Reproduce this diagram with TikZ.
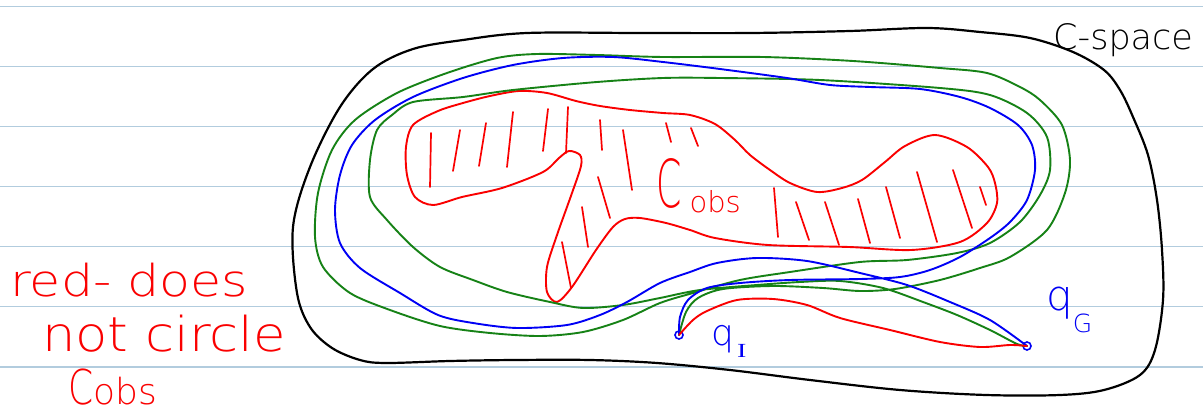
\documentclass[tikz,border=0pt]{standalone}
\usepackage{fontspec}
\setmainfont{DejaVuSans-ExtraLight.ttf}
\newfontfamily\seriffont{Liberation Serif}
\definecolor{rulecol}{RGB}{178,204,222}
\definecolor{pred}{RGB}{250,0,0}
\definecolor{pgreen}{RGB}{22,130,22}
\definecolor{pblue}{RGB}{0,0,245}
\begin{document}
\begin{tikzpicture}[x=1pt,y=-1pt,
  pen/.style={line width=1.9pt,line cap=round,line join=round},
  blackpen/.style={pen,draw=black,line width=2.2pt},
  redpen/.style={pen,draw=pred},
  greenpen/.style={pen,draw=pgreen},
  bluepen/.style={pen,draw=pblue},
  hatch/.style={pen,draw=pred,line width=1.7pt},
  ruleline/.style={draw=rulecol,line width=1.6pt},
  qpt/.style={circle,draw=pblue,line width=1.6pt,minimum size=8pt,inner sep=0pt},
  txt/.style={inner sep=0pt,anchor=base west}]
\useasboundingbox (0,0) rectangle (1203,414);
\fill[white] (0,0) rectangle (1203,414);
\foreach \y in {6.7,66.7,126.7,186.7,246.7,306.7,366.7}
  \draw[ruleline] (0,\y) -- (1203,\y);

% C-space boundary
\draw[blackpen] plot[smooth cycle,tension=0.55] coordinates {
 (1104,70) (1073,52) (1030,38) (980,32) (927,28) (850,31) (751,33) (640,33)
 (527,33) (463,40) (413,49) (373,69) (340,107) (310,167) (293,227) (297,293)
 (310,327) (332,348) (360,360) (386,363) (450,361) (515,360) (590,360) (657,363)
 (730,370) (810,380) (900,390) (986,395) (1060,395) (1104,390) (1140,375)
 (1155,350) (1163,300) (1162,250) (1157,200) (1148,155) (1133,117) (1120,90)};

% obstacle
\draw[redpen] plot[smooth cycle,tension=0.5] coordinates {
 (433,205) (415,197) (407,175) (406,147) (413,125) (438,111) (463,103) (490,96)
 (519,91) (547,93) (576,101) (600,106) (630,110) (663,113) (690,115) (715,124)
 (735,140) (750,155) (770,170) (790,183) (817,192) (842,188) (862,180) (885,162)
 (905,146) (935,135) (967,147) (988,167) (995,183) (997,203) (987,223) (960,242)
 (911,250) (849,247) (768,245) (715,238) (690,230) (666,223) (640,218) (625,219)
 (613,227) (596,250) (572,287) (557,302) (547,292) (547,267) (557,235) (572,193)
 (581,166) (580,155) (569,151) (559,158) (543,172) (502,188) (462,197)};

\foreach \a/\b/\c/\d in {431/133/430/187, 460/130/453/171, 486/123/479/166,
  513/112/507/167, 548/109/543/151, 568/107/566/153, 600/120/602/150,
  623/130/632/190, 666/123/671/142, 691/128/698/146, 598/177/610/218,
  582/207/588/247, 562/242/571/288, 774/188/778/237, 796/202/809/240,
  825/202/839/245, 858/199/870/243, 886/187/900/238, 917/172/937/242,
  953/170/972/228, 980/187/986/205}
  \draw[hatch] (\a,\b) -- (\c,\d);

% start and goal
\node[qpt] (qI) at (679,335) {};
\node[qpt] (qG) at (1027,346) {};

% green path (two loops)
\draw[greenpen] plot[smooth,tension=0.5] coordinates {
 (qI.center) (686,312) (698,298) (723,289) (773,286) (823,288) (860,291) (895,289)
 (940,280) (980,268) (1010,257) (1047,230) (1065,193) (1070,160) (1062,125)
 (1040,100) (1020,87) (987,73) (940,68) (853,61) (763,57) (663,57) (597,55)
 (537,54) (497,58) (447,73) (397,93) (355,120) (332,150) (318,193) (315,237)
 (323,267) (350,293) (390,310) (440,326) (490,333) (540,336) (583,332) (623,320)
 (660,303) (693,293) (740,280) (790,272) (860,262) (907,260) (957,253) (990,243)
 (1020,222) (1040,195) (1050,170) (1047,137) (1027,113) (990,95) (940,88)
 (820,80) (720,78) (663,78) (597,82) (513,90) (463,97) (413,102) (392,115)
 (377,130) (370,160) (370,197) (387,220) (413,247) (440,267) (473,280) (507,292)
 (550,302) (583,308) (623,305) (660,298) (700,290) (757,285) (800,282) (840,281)
 (883,288) (923,302) (957,315) (990,330) (1017,344) (qG.center)};

% blue path (one loop)
\draw[bluepen] plot[smooth,tension=0.5] coordinates {
 (qI.center) (680,317) (688,300) (707,288) (740,283) (790,280) (860,279) (900,277)
 (930,270) (960,257) (990,238) (1010,222) (1027,200) (1035,170) (1032,145)
 (1018,125) (990,108) (960,97) (920,89) (870,87) (830,85) (787,78) (720,69)
 (663,62) (613,57) (563,58) (513,65) (463,78) (413,97) (375,120) (352,145)
 (340,175) (335,210) (340,243) (360,268) (400,293) (438,315) (473,323) (517,328)
 (567,325) (600,315) (627,302) (660,283) (690,272) (717,263) (757,258) (807,261)
 (860,273) (907,285) (950,302) (990,320) (qG.center)};

% red path (does not circle)
\draw[redpen] plot[smooth,tension=0.5] coordinates {
 (qI.center) (693,320) (707,311) (737,300) (773,299) (807,305) (840,318) (890,330)
 (940,342) (980,347) (1010,345) (qG.center)};

% labels
\node[txt,text=black] (cspace) at (1053,50) {\fontsize{35}{38}\selectfont C-space};
\node[txt,text=pred] (cobs) at (656,208) {\scalebox{0.55}[1]{\fontsize{66}{66}\selectfont C}\hspace{8pt}\raisebox{-5pt}{\fontsize{29}{29}\selectfont obs}};
\node[txt,text=pblue] (qIlbl) at (711,345) {\fontsize{36}{36}\selectfont q\hspace{3pt}\raisebox{-12pt}{\scalebox{1.4}[1]{\fontsize{20}{20}\selectfont\seriffont I}}};
\node[txt,text=pblue] (qGlbl) at (1046,310) {\fontsize{42}{42}\selectfont q\raisebox{-22pt}{\fontsize{25}{25}\selectfont G}};
\node[txt,text=pred] (note1) at (10,297) {\scalebox{1.15}[1]{\fontsize{44}{44}\selectfont red- does}};
\node[txt,text=pred] (note2) at (42,352) {\scalebox{1.1}[1]{\fontsize{48}{48}\selectfont not circle}};
\node[txt,text=pred] (note3) at (68,404) {\scalebox{0.75}[1]{\fontsize{48}{48}\selectfont C}\fontsize{36}{36}\selectfont obs};
\end{tikzpicture}
\end{document}
